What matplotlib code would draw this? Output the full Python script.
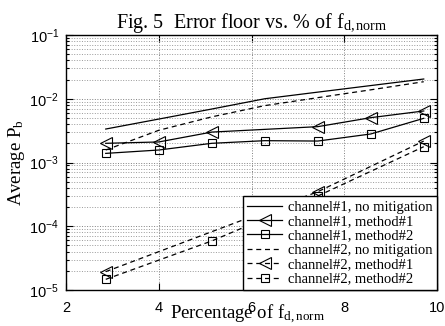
import matplotlib
matplotlib.use("Agg")
import matplotlib.pyplot as plt
from matplotlib.ticker import LogLocator, NullFormatter

plt.rcParams['font.family'] = ['Liberation Serif', 'DejaVu Serif']
plt.rcParams['mathtext.fontset'] = 'stix'

# data (x = percentage of f_d,norm)
x_all = [2.857, 4.0, 5.143, 6.286, 7.429, 8.571, 9.714]
ch1_nomit = [3.35e-3, 4.8e-3, 6.9e-3, 1.0e-2, 1.27e-2, 1.61e-2, 2.04e-2]
ch2_nomit = [1.57e-3, 3.2e-3, 5.2e-3, 7.8e-3, 1.04e-2, 1.38e-2, 1.85e-2]
x_c1m1 = [2.857, 4.0, 5.143, 7.429, 8.571, 9.714]
ch1_m1 = [2.0e-3, 2.1e-3, 3.0e-3, 3.65e-3, 5.05e-3, 6.43e-3]
ch1_m2 = [1.39e-3, 1.57e-3, 2.0e-3, 2.2e-3, 2.17e-3, 2.8e-3, 4.93e-3]
x_c2m1 = [2.857, 7.429, 9.714]
ch2_m1 = [1.94e-5, 3.48e-4, 2.17e-3]
x_c2m2 = [2.857, 5.143, 7.429, 9.714]
ch2_m2 = [1.47e-5, 5.88e-5, 2.98e-4, 1.77e-3]

labels = ["channel#1, no mitigation", "channel#1, method#1", "channel#1, method#2",
          "channel#2, no mitigation", "channel#2, method#1", "channel#2, method#2"]
xticks = [2, 4, 6, 8, 10]

fig = plt.figure(figsize=(4.45, 3.26), dpi=100)
ax = fig.add_axes([66/445, 36/326, 371/445, 255/326])

lw = 0.9
ax.plot(x_all, ch1_nomit, '-', color='k', lw=lw, label=labels[0])
ax.plot(x_c1m1, ch1_m1, '-', color='k', lw=lw, marker='<', ms=8, mfc='none', mec='k', mew=0.8, label=labels[1])
ax.plot(x_all, ch1_m2, '-', color='k', lw=lw, marker='s', ms=6, mfc='none', mec='k', mew=0.8, label=labels[2])
ax.plot(x_all, ch2_nomit, '--', color='k', lw=lw, dashes=(4, 3), label=labels[3])
ax.plot(x_c2m1, ch2_m1, '--', color='k', lw=lw, dashes=(4, 3), marker='<', ms=8, mfc='none', mec='k', mew=0.8, label=labels[4])
ax.plot(x_c2m2, ch2_m2, '--', color='k', lw=lw, dashes=(4, 3), marker='s', ms=6, mfc='none', mec='k', mew=0.8, label=labels[5])

ax.set_yscale('log')
ax.set_xlim(2, 10)
ax.set_ylim(1e-5, 1e-1)
ax.set_xticks(xticks)
ax.set_xticklabels([str(t) for t in xticks])
ax.yaxis.set_major_locator(LogLocator(base=10, numticks=10))
ax.yaxis.set_minor_locator(LogLocator(base=10, subs=range(2, 10), numticks=20))
ax.yaxis.set_minor_formatter(NullFormatter())

ax.grid(True, which='major', linestyle=':', linewidth=0.7, color='0.5')
ax.grid(True, which='minor', axis='y', linestyle=':', linewidth=0.7, color='0.6')

ax.tick_params(which='both', direction='in', top=True, right=True, width=0.8)
ax.tick_params(which='major', length=5)
ax.tick_params(which='minor', length=2.5)
ax.tick_params(axis='x', pad=8)
ax.tick_params(axis='y', pad=5)
for lab in ax.get_xticklabels() + ax.get_yticklabels():
    lab.set_fontfamily('Liberation Sans')
    lab.set_fontsize(10.5)
for s in ax.spines.values():
    s.set_linewidth(1.0)

ax.set_title(r"Fig. 5  Error floor vs. % of f$_{\mathregular{d,norm}}$", fontsize=14.5, pad=2)
ax.set_xlabel(r"Percentage of f$_{\mathregular{d,norm}}$", fontsize=13.5)
ax.xaxis.set_label_coords(0.49, -0.05)
ax.set_ylabel(r"Average P$_{\mathregular{b}}$", fontsize=13.5, labelpad=2)

leg = ax.legend(loc='lower right', borderaxespad=0, fontsize=10.5, frameon=True,
                fancybox=False, edgecolor='k', framealpha=1, handlelength=2.4,
                handletextpad=0.4, labelspacing=0.08, borderpad=0.3)
leg.get_frame().set_linewidth(1.0)

fig.savefig("out.png", dpi=100)
